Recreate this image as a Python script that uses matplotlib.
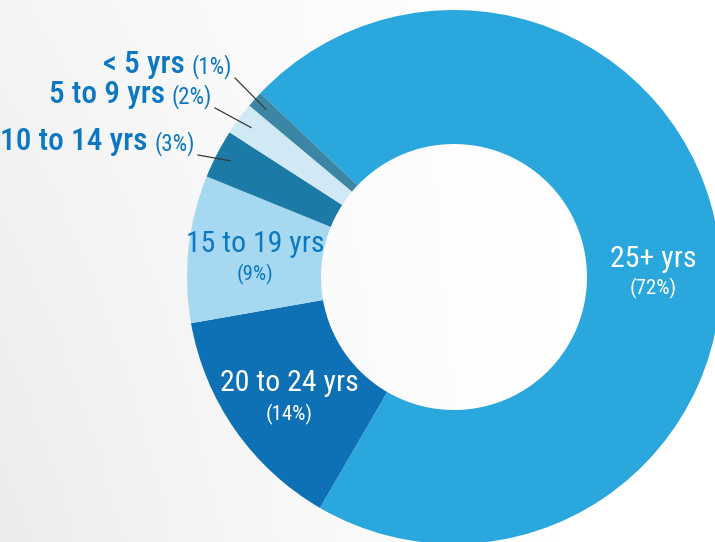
import matplotlib.pyplot as plt
import numpy as np

# data
labels = ['25+ yrs', '20 to 24 yrs', '15 to 19 yrs', '10 to 14 yrs', '5 to 9 yrs', '< 5 yrs']
pcts = [72, 14, 9, 3, 2, 1]
colors = ['#2aa7dd', '#0f71b5', '#a6d9f1', '#1b7aa6', '#d0e9f5', '#3c86a5']

TXT_BLUE = '#0b78c1'
plt.rcParams['font.family'] = ['Roboto Condensed', 'Liberation Sans Narrow', 'Roboto', 'DejaVu Sans']

W, H = 715, 542
fig = plt.figure(figsize=(W / 100, H / 100), dpi=100)
ax = fig.add_axes([0, 0, 1, 1])

# soft grey background fading to white on the right
xx, yy = np.meshgrid(np.linspace(0, W, 200), np.linspace(0, H, 150))
shade = 1 - 0.075 * np.clip(1 - xx / 560, 0, 1) ** 1.3 * (0.55 + 0.45 * (1 - yy / H))
ax.imshow(np.dstack([shade, shade, shade]).clip(0, 1), extent=[0, W, 0, H],
          origin='lower', aspect='auto', zorder=0)

cx, cy = 454, H - 277
R, r = 267, 133
wedges, _ = ax.pie(pcts, colors=colors, startangle=136.5, counterclock=False,
                   center=(cx, cy), radius=R, frame=True,
                   wedgeprops=dict(width=R - r, linewidth=0))
for w in wedges:
    w.set_zorder(2)
ax.set_xlim(0, W)
ax.set_ylim(0, H)
ax.set_aspect('equal')
ax.axis('off')

fig.canvas.draw()
rend = fig.canvas.get_renderer()

# small slices: labels outside with leader lines
outside = {
    '< 5 yrs': (232, 73),
    '5 to 9 yrs': (212, 103),
    '10 to 14 yrs': (195, 150),
}
for w, lab, p in zip(wedges, labels, pcts):
    if lab not in outside:
        continue
    xr, yb = outside[lab]
    small = ax.text(xr, H - yb, f'({p}%)', ha='right', va='baseline', fontsize=16.5,
                    color=TXT_BLUE, zorder=3)
    wpx = small.get_window_extent(rend).width
    ax.text(xr - wpx - 7, H - yb, lab, ha='right', va='baseline', fontsize=22.5,
            fontweight='medium', color=TXT_BLUE, zorder=3)
    mid = np.deg2rad((w.theta1 + w.theta2) / 2)
    ex, ey = cx + 252 * np.cos(mid), cy + 252 * np.sin(mid)
    ax.plot([xr + 3, ex], [H - yb - 5, ey], color='#3a3a3a', lw=0.9, zorder=4)

# big slices: labels inside the ring
inside = {
    '25+ yrs': (653, 267, 294, 'white'),
    '20 to 24 yrs': (289, 391, 420, 'white'),
    '15 to 19 yrs': (255, 252, 280, TXT_BLUE),
}
for lab, p in zip(labels, pcts):
    if lab not in inside:
        continue
    x, y1, y2, c = inside[lab]
    ax.text(x, H - y1, lab, ha='center', va='baseline', fontsize=21.5,
            color=c, zorder=3)
    ax.text(x, H - y2, f'({p}%)', ha='center', va='baseline', fontsize=15,
            color=c, zorder=3)

fig.savefig('out.png', dpi=100)
